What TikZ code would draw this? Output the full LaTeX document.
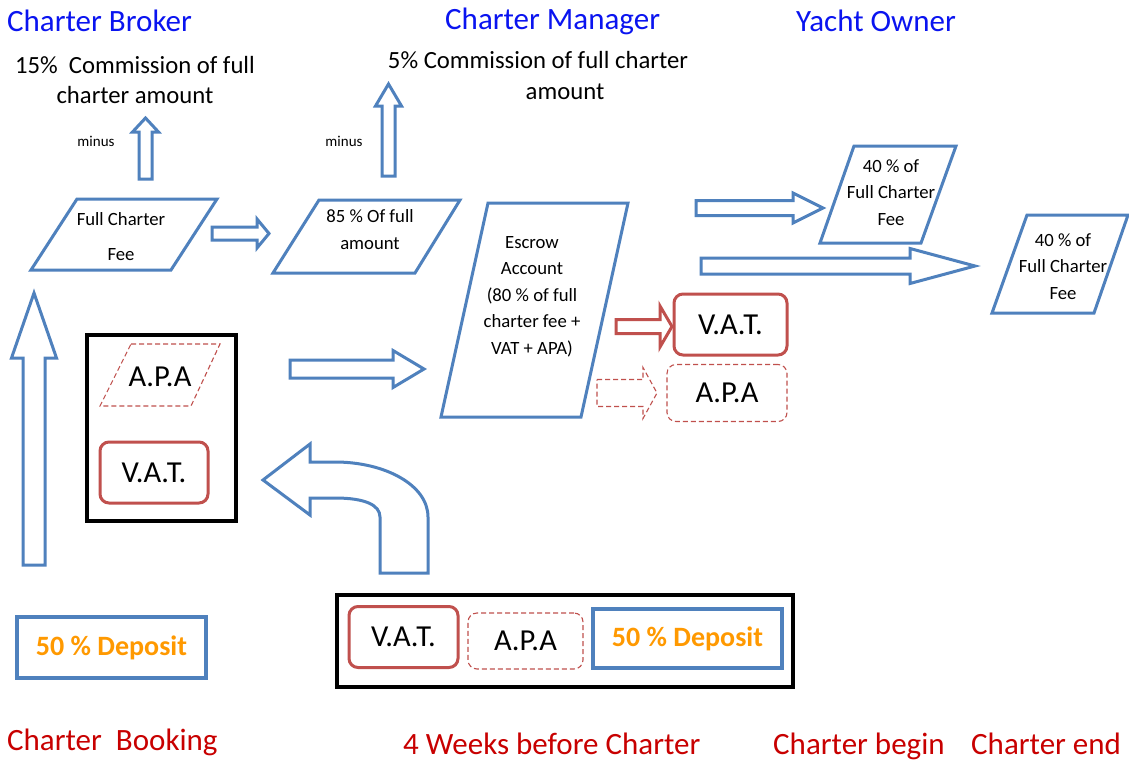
\documentclass[tikz,border=0pt]{standalone}
\usepackage{fontspec}
\setmainfont{Carlito}
\usepackage{xcolor}

\definecolor{boxblue}{RGB}{79,129,189}
\definecolor{boxred}{RGB}{192,80,77}
\definecolor{headblue}{RGB}{10,20,240}
\definecolor{timered}{RGB}{200,0,0}
\definecolor{deporange}{RGB}{255,153,0}

\tikzset{
  pics/blockarrow/.style n args={4}{code={
    \draw[pic actions] (0,-#2) -- (#1-#4,-#2) -- (#1-#4,-#3) -- (#1,0)
      -- (#1-#4,#3) -- (#1-#4,#2) -- (0,#2) -- cycle;
  }}
}

\begin{document}
\begin{tikzpicture}[x=1pt,y=-1pt,
    blueline/.style={draw=boxblue, line width=3pt},
    redline/.style={draw=boxred, line width=3pt},
    dashline/.style={draw=boxred, line width=1.1pt, dash pattern=on 5pt off 3pt},
    redbox/.style={draw=boxred, line width=3pt, rounded corners=9pt, inner sep=0pt},
    dashbox/.style={draw=boxred, line width=1.1pt, dash pattern=on 5pt off 3pt, rounded corners=9pt, inner sep=0pt},
    blackbox/.style={draw=black, line width=4pt, inner sep=0pt},
    deposit/.style={draw=boxblue, line width=4pt, inner sep=0pt, text=deporange, font=\bfseries\fontsize{28}{32}\selectfont},
    head/.style={anchor=base west, inner sep=0pt, text=headblue, font=\fontsize{31}{36}\selectfont},
    when/.style={anchor=base west, inner sep=0pt, text=timered, font=\fontsize{31}{36}\selectfont},
    note/.style={anchor=base, inner sep=0pt, align=center, font=\fontsize{24.7}{30}\selectfont},
    small/.style={anchor=base, inner sep=0pt, align=center, font=\fontsize{18.7}{26.5}\selectfont},
    big/.style={font=\fontsize{30.5}{34}\selectfont}]
  \fill[white] (0,0) rectangle (1129,760);
  \useasboundingbox (0,0) rectangle (1129,760);

  % who gets what
  \node[head] (broker) at (7,32) {Charter Broker};
  \node[head] (manager) at (445,30) {Charter Manager};
  \node[head] (owner) at (796,32) {Yacht Owner};

  \node[note] (comm1) at (135,103) {15\%\ \ Commission of full\\charter amount};
  \node[note] (comm2) at (538,69) {5\% Commission of full charter};
  \node[note] (comm2b) at (565,99) {amount};
  \node[anchor=base, inner sep=0pt, font=\fontsize{15}{18}\selectfont] (minus1) at (96,146) {minus};
  \node[anchor=base, inner sep=0pt, font=\fontsize{15}{18}\selectfont] (minus2) at (344,146) {minus};

  % parallelograms
  \draw[blueline] (77,199) -- (217,199) -- (171,270) -- (31,270) -- cycle;
  \node[small, font=\fontsize{18.7}{35}\selectfont] (full) at (121,260) {Full Charter\\Fee};
  \draw[blueline] (319,200) -- (460,200) -- (415,273) -- (273,273) -- cycle;
  \node[small] (eightyfive) at (370,249) {85 \% Of full\\amount};
  \draw[blueline] (488,203) -- (628,203) -- (581,417) -- (441,417) -- cycle;
  \node[small] (escrow) at (532,354) {Escrow\\Account\\(80 \% of full\\charter fee +\\VAT + APA)};
  \draw[blueline] (854,146) -- (956,146) -- (921,243) -- (820,243) -- cycle;
  \node[small] (owner1) at (891,225) {40 \% of\\Full Charter\\Fee};
  \draw[blueline] (1027,215) -- (1128,215) -- (1094,313) -- (992,313) -- cycle;
  \node[small] (owner2) at (1063,299) {40 \% of\\Full Charter\\Fee};

  % block arrows
  \pic[blueline, rotate=90] at (145.5,179) {blockarrow={61}{6.5}{13}{14}};
  \pic[blueline, rotate=90] at (388.5,176) {blockarrow={92}{6.5}{13}{22}};
  \pic[blueline, rotate=90] at (34,565) {blockarrow={272}{11}{22.5}{65}};
  \pic[blueline] at (212,233.5) {blockarrow={57}{6.5}{14.5}{12}};
  \pic[blueline] at (290,369) {blockarrow={134}{9}{18.5}{31}};
  \pic[blueline] at (696,208) {blockarrow={127}{7.5}{15}{30}};
  \pic[blueline] at (701,266) {blockarrow={274}{8}{17.5}{65}};
  \pic[redline] at (616,326.5) {blockarrow={56}{7}{20.5}{12}};
  \pic[dashline] at (597,393) {blockarrow={60}{13.5}{25.5}{14}};

  % escrow payouts
  \node[redbox, minimum width=113pt, minimum height=61pt, big] (vatR) at (730.5,324.5) {V.A.T.};
  \node[dashbox, minimum width=120pt, minimum height=57pt, big] (apaR) at (727,393) {A.P.A};

  % paid at booking
  \node[blackbox, minimum width=149pt, minimum height=186pt] (grpL) at (161.5,428) {};
  \draw[dashline] (131,344) -- (220,344) -- (191,406) -- (100,406) -- cycle;
  \node[big, anchor=base, inner sep=0pt] (apaL) at (160,386) {A.P.A};
  \node[redbox, minimum width=108pt, minimum height=61pt, big] (vatL) at (154,472.5) {V.A.T.};

  \draw[blueline, line join=miter] (263,480) -- (310,444) -- (310,462) -- (335,462)
    .. controls (385,462) and (428,485) .. (428,517) -- (428,573) -- (380,573) -- (380,517)
    .. controls (380,505) and (365,498) .. (335,498) -- (310,498) -- (310,515) -- cycle;

  % deposits
  \node[deposit, minimum width=189pt, minimum height=61pt] (depL) at (111.5,647.5) {50 \% Deposit};
  \node[blackbox, minimum width=456pt, minimum height=92pt] (grpB) at (565,641) {};
  \node[redbox, minimum width=109pt, minimum height=61pt, big] (vatB) at (403.5,637) {V.A.T.};
  \node[dashbox, minimum width=115pt, minimum height=56pt, big] (apaB) at (525.5,641) {A.P.A};
  \node[deposit, minimum width=189pt, minimum height=59pt] (depB) at (687.5,638.5) {50 \% Deposit};

  % timeline
  \node[when] (booking) at (7,750) {Charter\ \ Booking};
  \node[when] (fourweeks) at (403,754) {4 Weeks before Charter};
  \node[when] (begin) at (773,754) {Charter begin};
  \node[when] (charterend) at (971,754) {Charter end};
\end{tikzpicture}
\end{document}
